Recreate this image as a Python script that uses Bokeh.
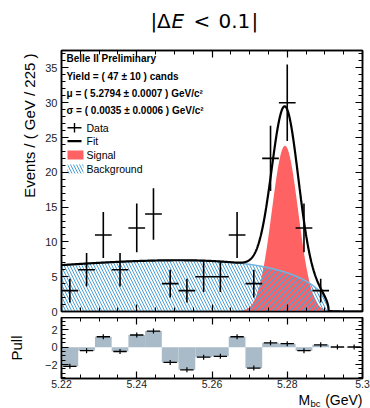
import numpy as np
from bokeh.plotting import figure
from bokeh.layouts import column
from bokeh.models import Range1d, LinearAxis, FixedTicker, Label, Title
from bokeh.embed import file_html
from bokeh.resources import INLINE

# ---- binned M_bc data: 18 bins of 1/225 GeV between 5.22 and 5.30 GeV ----
m_lo, m_hi = 5.22, 5.30
n_bins = 18
counts = [3, 6, 11, 6, 12, 14, 4, 3, 5, 5, 11, 4, 22, 30, 12, 3, 0, 0]
count_err = [1.7, 2.4, 3.3, 2.4, 3.5, 3.7, 2.0, 1.7, 2.2, 2.2, 3.3, 2.0, 4.7, 5.5, 3.5, 1.7, 0.0, 0.0]
pulls = [-2.2, -0.4, 1.2, -0.5, 1.4, 1.85, -1.75, -2.6, -1.15, -1.05, 1.2, -2.4,
         0.5, 0.4, -0.4, 0.27, 0.02, 0.02]

# ---- fit model: Gaussian signal + ARGUS background ----
sig_yield, sig_yield_err = 47, 10
sig_mu, sig_mu_err = 5.2794, 0.0007
sig_sigma, sig_sigma_err = 0.0035, 0.0006
bkg_yield = 104
argus_m0 = 5.291
argus_c = -32.7

y_max = 37.5
pull_lo, pull_hi = -3.6, 3.41

bin_w = (m_hi - m_lo) / n_bins
edges = m_lo + np.arange(n_bins + 1) * bin_w
centers = 0.5 * (edges[:-1] + edges[1:])
counts_a = np.array(counts, dtype=float)
err_a = np.array(count_err)
pull_a = np.array(pulls)

m = np.linspace(m_lo, m_hi, 1601)
sig_curve = sig_yield * bin_w * np.exp(-0.5 * ((m - sig_mu) / sig_sigma) ** 2) / (sig_sigma * np.sqrt(2 * np.pi))
z = np.clip(1.0 - (m / argus_m0) ** 2, 0, None)
shape = np.where(z > 0, m * np.sqrt(z) * np.exp(argus_c * z), 0.0)
bkg_curve = shape / np.trapezoid(shape, m) * bkg_yield * bin_w
tot_curve = sig_curve + bkg_curve

# ---- page geometry (pixels from the top-left of the page) ----
W = 370
MAIN_TOP, MAIN_BOT = 40, 317
PULL_TOP, PULL_BOT = 317, 391
XT_TOP, XT_BOT = 391, 408  # strip holding the x-axis title
FL, FR = 61, 362          # frame left / right
MT, MB = 50, 311          # main frame top / bottom
PT, PB = 317, 378         # pull frame top / bottom

FONT = "Liberation Sans"
RED = "#ff6262"
HATCH = "#4aa0d6"
PULL_FILL = "#a9bbc8"


def mx(px):
    return m_lo + (px - FL) / (FR - FL) * (m_hi - m_lo)


def my(py):
    return y_max * (MB - py) / (MB - MT)


def style_axis(ax, labels=True):
    ax.major_tick_in = 7
    ax.major_tick_out = 0
    ax.minor_tick_in = 4
    ax.minor_tick_out = 0
    ax.axis_line_width = 1.5
    ax.major_tick_line_width = 1.2
    ax.minor_tick_line_width = 1.0
    ax.axis_line_color = "black"
    ax.major_tick_line_color = "black"
    ax.minor_tick_line_color = "black"
    ax.major_label_text_font = FONT
    ax.major_label_text_font_size = "11px"
    ax.major_label_text_color = "#222222"
    ax.major_label_standoff = 4
    if not labels:
        ax.major_label_text_font_size = "0px"
        ax.major_label_text_color = None
        ax.major_label_standoff = 0


def bare(fig):
    fig.grid.visible = False
    fig.background_fill_color = "white"
    fig.border_fill_color = "white"


def strip(top_px, bot_px):
    """Axis-less band sharing the x scale; y is in page pixels."""
    s = figure(width=W, height=bot_px - top_px, x_range=x_range, y_range=Range1d(bot_px, top_px),
               output_backend="svg", toolbar_location=None,
               min_border_left=FL, min_border_right=W - FR, min_border_top=0, min_border_bottom=0,
               x_axis_location=None, y_axis_location=None, outline_line_color=None)
    bare(s)
    return s


x_ticker = FixedTicker(ticks=[5.22, 5.24, 5.26, 5.28, 5.30],
                       minor_ticks=list(np.round(np.arange(5.22, 5.3001, 0.005), 3)))
y_ticker = FixedTicker(ticks=list(range(0, 36, 5)), minor_ticks=list(range(0, 38)))
pull_ticker = FixedTicker(ticks=[-2, 0, 2], minor_ticks=list(np.arange(-3.5, 3.51, 0.5)))

x_range = Range1d(m_lo, m_hi)

# ================= title strip: |ΔE < 0.1| =================
top = strip(0, MAIN_TOP)
for txt, px, style in [("|", 150, "normal"), ("Δ", 156.5, "normal"), ("E", 171, "italic"),
                       ("<", 193, "normal"), ("0.1", 218, "normal"), ("|", 251, "normal")]:
    top.add_layout(Label(x=mx(px), y=20, text=txt, text_font="DejaVu Sans",
                         text_font_size="20px", text_font_style=style,
                         text_baseline="middle", text_align="left", text_color="black"))

# ================= main panel =================
p = figure(width=W, height=MAIN_BOT - MAIN_TOP, x_range=x_range, y_range=Range1d(0, y_max),
           output_backend="svg", toolbar_location=None,
           min_border_left=FL, min_border_right=W - FR,
           min_border_top=MT - MAIN_TOP, min_border_bottom=MAIN_BOT - MB)
bare(p)
p.outline_line_color = "black"
p.outline_line_width = 1.5

p.xaxis.ticker = x_ticker
p.yaxis.ticker = y_ticker
style_axis(p.xaxis[0], labels=False)
style_axis(p.yaxis[0], labels=True)
ax_top = LinearAxis(ticker=x_ticker)
style_axis(ax_top, labels=False)
p.add_layout(ax_top, "above")
ax_right = LinearAxis(ticker=y_ticker)
style_axis(ax_right, labels=False)
p.add_layout(ax_right, "right")

p.add_layout(Title(text="Events / ( GeV / 225 )", align="right", offset=3, standoff=10,
                   text_font=FONT, text_font_size="15px", text_font_style="normal",
                   text_color="black"), "left")

# signal, background, total fit
p.varea(x=m, y1=0, y2=sig_curve, fill_color=RED, fill_alpha=1.0)
p.varea(x=m, y1=0, y2=bkg_curve, fill_alpha=0.0, hatch_pattern="\\",
        hatch_color=HATCH, hatch_scale=6, hatch_weight=1.0)
p.line(m, bkg_curve, line_color="#74b3de", line_width=1.5)
p.line(m, tot_curve, line_color="black", line_width=2.2)

# data points with error bars
has = counts_a > 0
p.segment(x0=edges[:-1][has], x1=edges[1:][has], y0=counts_a[has], y1=counts_a[has],
          line_color="black", line_width=1.6)
p.segment(x0=centers[has], x1=centers[has], y0=(counts_a - err_a)[has], y1=(counts_a + err_a)[has],
          line_color="black", line_width=1.6)

# fit info text
info = [
    ("Belle II Preliminary", 58),
    (f"Yield = ( {sig_yield}  ± {sig_yield_err} ) cands", 75.7),
    (f"μ = ( {sig_mu:.4f}  ± {sig_mu_err:.4f} ) GeV/c²", 92.7),
    (f"σ = ( {sig_sigma:.4f}  ± {sig_sigma_err:.4f} ) GeV/c²", 110),
]
for txt, py in info:
    p.add_layout(Label(x=mx(66), y=my(py), text=txt, text_font=FONT, text_font_size="10px",
                       text_font_style="bold", text_baseline="middle", text_color="black"))

# legend
leg = [("Data", 127.3), ("Fit", 140.7), ("Signal", 154.3), ("Background", 168.3)]
for txt, py in leg:
    p.add_layout(Label(x=mx(86), y=my(py), text=txt, text_font=FONT, text_font_size="10.5px",
                       text_baseline="middle", text_color="black"))
p.segment(x0=[mx(67)], x1=[mx(81)], y0=[my(127.3)], y1=[my(127.3)], line_color="black", line_width=1.4)
p.segment(x0=[mx(74)], x1=[mx(74)], y0=[my(122.5)], y1=[my(132)], line_color="black", line_width=1.4)
p.segment(x0=[mx(67)], x1=[mx(81)], y0=[my(140.7)], y1=[my(140.7)], line_color="black", line_width=2.2)
p.quad(left=[mx(67)], right=[mx(83)], top=[my(150)], bottom=[my(159)], fill_color=RED, line_color=None)
p.quad(left=[mx(67)], right=[mx(83)], top=[my(164)], bottom=[my(173)], fill_alpha=0.0,
       line_color=None, hatch_pattern="\\", hatch_color=HATCH, hatch_scale=6, hatch_weight=1.0)

# ================= pull panel =================
pp = figure(width=W, height=PULL_BOT - PULL_TOP, x_range=x_range, y_range=Range1d(pull_lo, pull_hi),
            output_backend="svg", toolbar_location=None,
            min_border_left=FL, min_border_right=W - FR,
            min_border_top=PT - PULL_TOP, min_border_bottom=PULL_BOT - PB)
bare(pp)
pp.outline_line_color = "black"
pp.outline_line_width = 1.5

pp.xaxis.ticker = x_ticker
pp.yaxis.ticker = pull_ticker
style_axis(pp.xaxis[0], labels=True)
style_axis(pp.yaxis[0], labels=True)
pp.xaxis[0].major_label_overrides = {5.3: "5.3"}
pp.xaxis[0].major_label_text_font_size = "10.5px"
pp.yaxis[0].major_label_overrides = {-2: "−2"}
pp.xaxis[0].major_label_standoff = 1
pp.yaxis[0].axis_label = "Pull"
pp.yaxis[0].axis_label_standoff = 17
pp.yaxis[0].axis_label_text_font = FONT
pp.yaxis[0].axis_label_text_font_size = "15px"
pp.yaxis[0].axis_label_text_font_style = "normal"
pp.yaxis[0].axis_label_text_color = "black"
pax_top = LinearAxis(ticker=x_ticker)
style_axis(pax_top, labels=False)
pp.add_layout(pax_top, "above")
pax_right = LinearAxis(ticker=pull_ticker)
style_axis(pax_right, labels=False)
pp.add_layout(pax_right, "right")

pp.quad(left=edges[:-1], right=edges[1:], bottom=0, top=pull_a,
        fill_color=PULL_FILL, line_color=None)
pp.segment(x0=edges[:-1] + 0.1 * bin_w, x1=edges[1:] - 0.1 * bin_w, y0=pull_a, y1=pull_a,
           line_color="black", line_width=1.3)
pp.scatter(x=centers, y=pull_a, marker="dash", angle=np.pi / 2, size=5,
           line_color="black", line_width=1.2)

# ================= x-axis title strip: M_bc (GeV) =================
xt = strip(XT_TOP, XT_BOT)
xt.add_layout(Label(x=mx(298), y=399, text="M", text_font=FONT, text_font_size="14px",
                    text_baseline="middle", text_align="left", text_color="black"))
xt.add_layout(Label(x=mx(310), y=402.5, text="bc", text_font=FONT, text_font_size="9.5px",
                    text_baseline="middle", text_align="left", text_color="black"))
xt.add_layout(Label(x=mx(362), y=399, text="(GeV)", text_font=FONT, text_font_size="14px",
                    text_baseline="middle", text_align="right", text_color="black"))

layout = column(top, p, pp, xt, spacing=0)
open("out.html", "w").write(file_html(layout, INLINE))
